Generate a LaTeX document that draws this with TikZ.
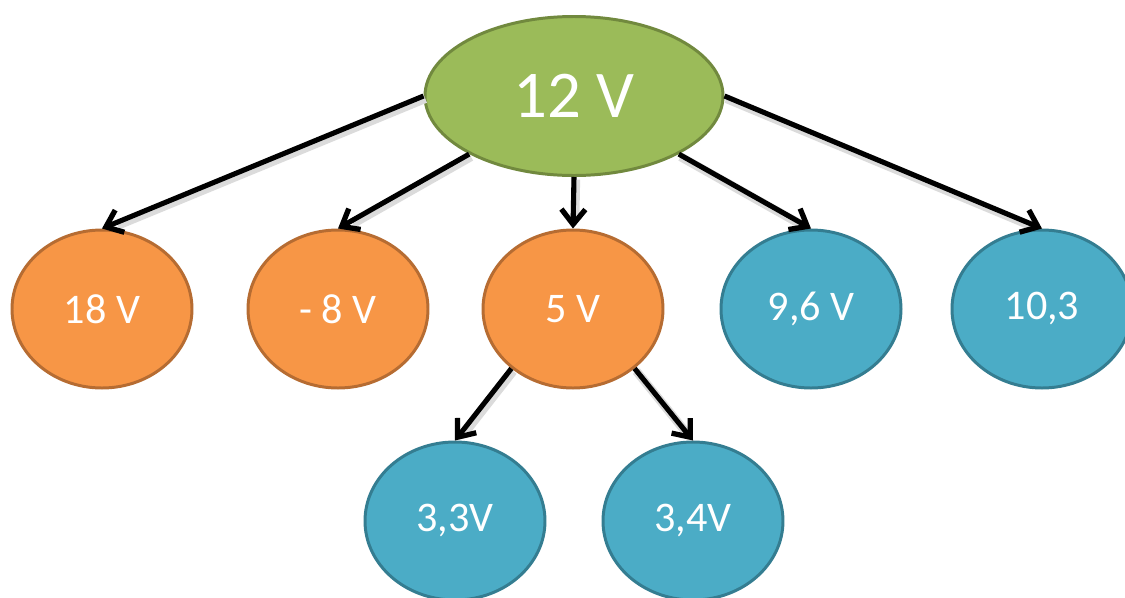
\documentclass[tikz,border=0pt]{standalone}
\usepackage{fontspec}
\setmainfont{Carlito}
\usetikzlibrary{arrows.meta,positioning,shapes.geometric}
\definecolor{SupplyGreen}{RGB}{155,187,89}
\definecolor{SupplyGreenEdge}{RGB}{113,137,62}
\definecolor{SupplyOrange}{RGB}{247,150,70}
\definecolor{SupplyOrangeEdge}{RGB}{182,108,50}
\definecolor{SupplyBlue}{RGB}{75,172,198}
\definecolor{SupplyBlueEdge}{RGB}{52,125,145}
\tikzset{
  rail/.style={ellipse,line width=1.7pt,text=white,inner sep=0pt,
    minimum width=3.6cm,minimum height=3.16cm,font=\fontsize{24}{28}\selectfont},
  source/.style={rail,draw=SupplyGreenEdge,fill=SupplyGreen,
    minimum width=5.96cm,minimum height=3.18cm,font=\fontsize{38}{42}\selectfont},
  outrail/.style={rail,draw=SupplyOrangeEdge,fill=SupplyOrange},
  subrail/.style={rail,draw=SupplyBlueEdge,fill=SupplyBlue},
  arrow/.style={-{Straight Barb[length=3mm,width=4.8mm,line width=3pt]},
    line width=2.9pt,black,
    preaction={draw=black!14,-,line width=5pt,shorten >=3mm,
      transform canvas={shift={(1pt,-1.5pt)}}}}
}

\begin{document}
\begin{tikzpicture}[x=0.2mm,y=-0.2mm]
  \useasboundingbox (0,0) rectangle (1125,598);
  % main supply
  \node[source] (v12) at (574,96) {12 V};
  % first level
  \node[outrail] (v18) at (102,309) {18 V};
  \node[outrail] (vm8) at (338,309) {- 8 V};
  \node[outrail] (v5)  at (573,309) {5 V};
  \node[subrail] (v96) at (811,309) {9,6 V};
  \node[subrail] (v103) at (1042,309) {10,3};
  % regulated from 5 V
  \node[subrail] (v33) at (455,521) {3,3V};
  \node[subrail] (v34) at (693,521) {3,4V};

  \draw[arrow] (v12.west) -- (v18.north);
  \draw[arrow] (v12.209) -- (vm8.north);
  \draw[arrow] (v12.south) -- (v5.north);
  \draw[arrow] (v12.331) -- (v96.north);
  \draw[arrow] (v12.east) -- (v103.north);
  \draw[arrow] (v5.224) -- (v33.north);
  \draw[arrow] (v5.316) -- (v34.north);
\end{tikzpicture}
\end{document}
